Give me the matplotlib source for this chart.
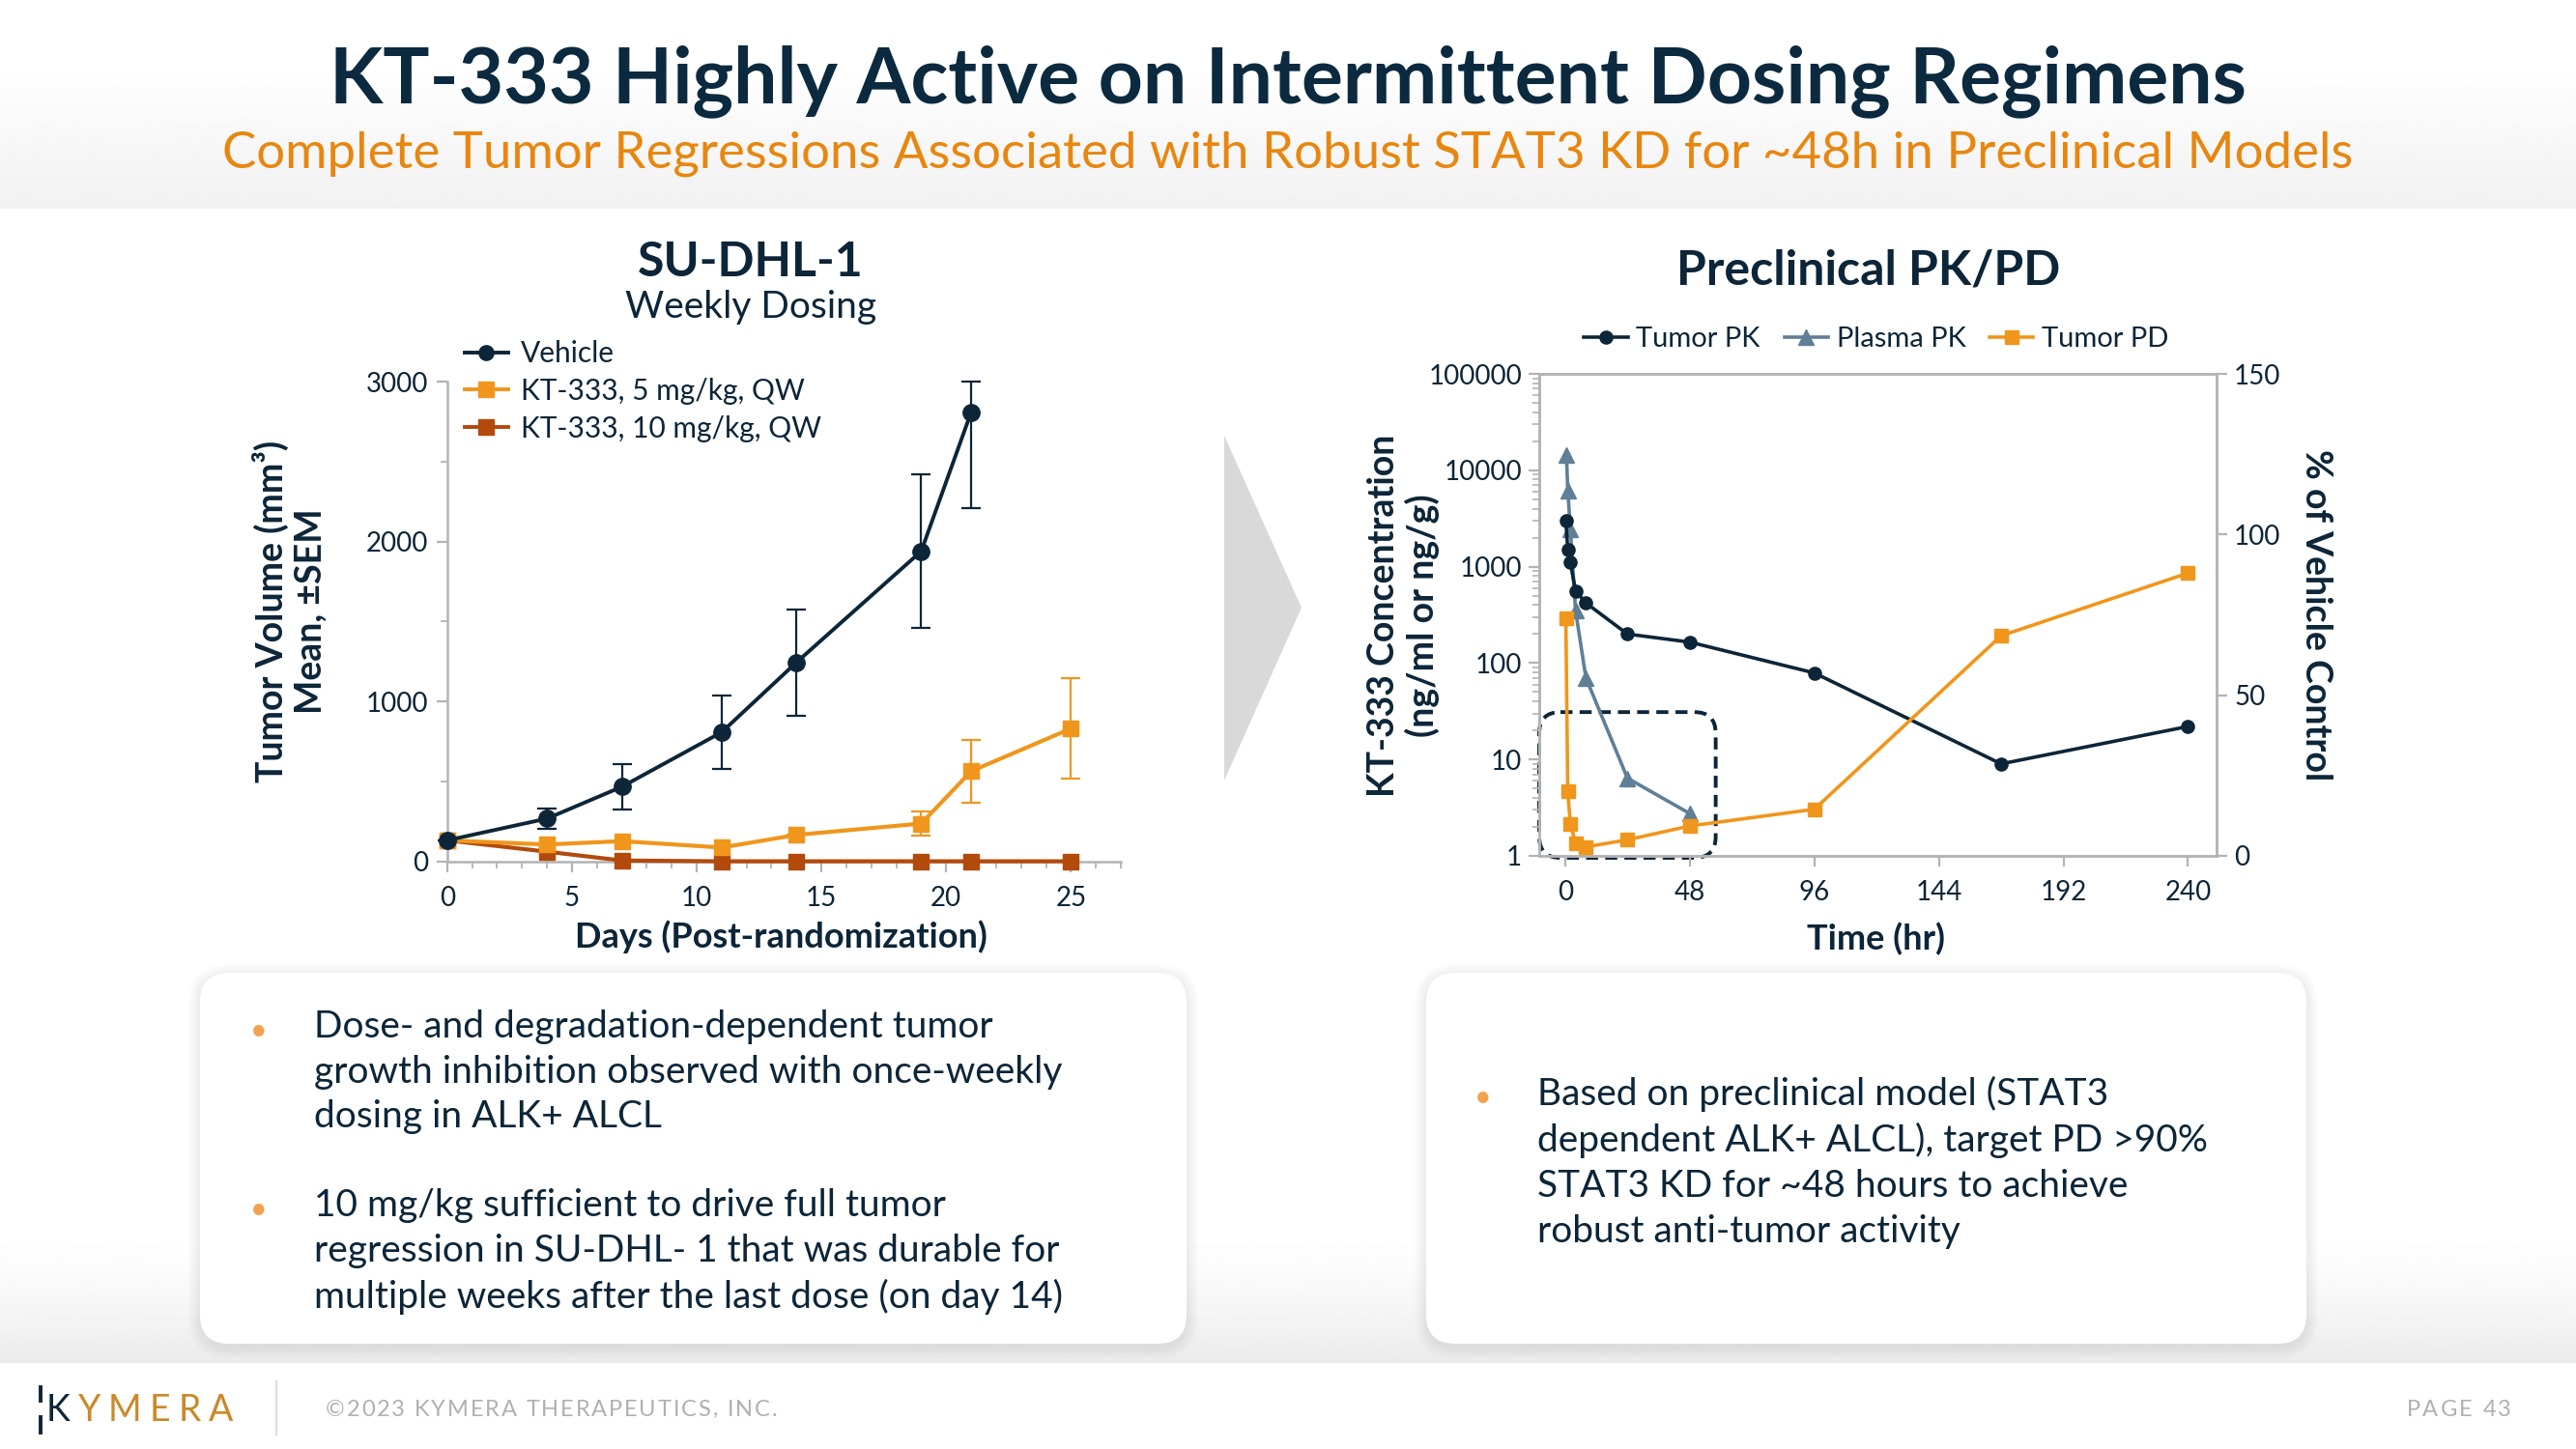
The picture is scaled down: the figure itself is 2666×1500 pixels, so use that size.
import numpy as np
import matplotlib
matplotlib.use("Agg")
import matplotlib.pyplot as plt
from matplotlib.patches import FancyBboxPatch, Polygon
from matplotlib.lines import Line2D

plt.rcParams['font.family'] = ['Lato', 'DejaVu Sans']

W, H = 2666, 1500
NAVY = '#0c2538'
ORANGE = '#f0961c'
RUST = '#b24a0c'
SLATE = '#5f7f97'
GREY = '#b3b3b3'

# SU-DHL-1 tumor volume (mm3), weekly dosing
days_vehicle = [0, 4, 7, 11, 14, 19, 21]
vehicle_mean = [131, 267, 466, 807, 1244, 1939, 2808]
vehicle_err_lo = [0, 63, 144, 232, 333, 480, 600]
vehicle_err_hi = [0, 63, 144, 232, 333, 480, 192]
days_dosed = [0, 4, 7, 11, 14, 19, 21, 25]
mg5_mean = [131, 105, 126, 86, 165, 236, 563, 830]
mg5_err = [0, 0, 0, 0, 0, 77, 197, 315]
mg10_mean = [131, 60, 5, 0, 0, 0, 0, 0]
left_labels = ['Vehicle', 'KT-333, 5 mg/kg, QW', 'KT-333, 10 mg/kg, QW']

# Preclinical PK/PD
pk_hours = [0.25, 1, 2, 4, 8, 24, 48, 96, 168, 240]
tumor_pk = [3000, 1500, 1100, 560, 420, 200, 165, 79, 9, 22]
plasma_hours = [0.5, 1, 2, 4, 8, 24, 48]
plasma_pk = [14500, 6200, 2450, 350, 70, 6.4, 2.75]
pd_hours = [0.25, 1, 2, 4, 8, 24, 48, 96, 168, 240]
tumor_pd = [74, 20, 10, 4, 2.8, 5, 9.3, 14.5, 68.5, 88]
kd_window = (-10, 58, 1, 31)   # hours / conc range highlighted

bullets_left = ["Dose- and degradation-dependent tumor\ngrowth inhibition observed with once-weekly\ndosing in ALK+ ALCL",
                "10 mg/kg sufficient to drive full tumor\nregression in SU-DHL- 1 that was durable for\nmultiple weeks after the last dose (on day 14)"]
bullets_right = ["Based on preclinical model (STAT3\ndependent ALK+ ALCL), target PD >90%\nSTAT3 KD for ~48 hours to achieve\nrobust anti-tumor activity"]

fig = plt.figure(figsize=(W / 100, H / 100), dpi=100)
renderer = fig.canvas.get_renderer()

# background layer in pixel coordinates
bg = fig.add_axes([0, 0, 1, 1], zorder=-5)
bg.set_xlim(0, W)
bg.set_ylim(H, 0)
bg.axis('off')
g = np.linspace(0, 1, 200)[:, None]
head = 1 - 0.055 * np.clip((g - 0.3) / 0.7, 0, 1)
bg.imshow(head, cmap='gray', vmin=0, vmax=1, extent=[0, W, 216, 0], aspect='auto')
foot = 1 - 0.08 * g ** 1.5
bg.imshow(foot, cmap='gray', vmin=0, vmax=1, extent=[0, W, 1411, 1270], aspect='auto')

# text boxes with soft shadow
for (x0, y0, w, h) in [(207, 1007, 1021, 384), (1476, 1007, 911, 384)]:
    for k in range(6, 0, -1):
        bg.add_patch(FancyBboxPatch((x0 - k * 2, y0 - k * 2 + 3), w + k * 4, h + k * 4,
                                    boxstyle='round,pad=0,rounding_size=%d' % (30 + k * 2),
                                    fc='#000000', ec='none', alpha=0.012))
    bg.add_patch(FancyBboxPatch((x0, y0), w, h, boxstyle='round,pad=0,rounding_size=30',
                                fc='white', ec='none'))

# chevron between the charts
bg.add_patch(Polygon([(1267, 451), (1347, 629), (1267, 808)], closed=True, fc='#d9d9d9', ec='none'))

# titles
bg.text(W / 2, 84, 'KT-333 Highly Active on Intermittent Dosing Regimens', ha='center', va='center',
        fontsize=58, fontweight='bold', color='#0b2a40')
bg.text(W / 2, 159, 'Complete Tumor Regressions Associated with Robust STAT3 KD for ~48h in Preclinical Models',
        ha='center', va='center', fontsize=38, color='#e8860f')


def text_width(s, **kw):
    t = bg.text(0, 0, s, **kw)
    w = t.get_window_extent(renderer).width
    t.remove()
    return w


def tracked(x0, x1, y, s, colors, **kw):
    # letter-spaced text spread from x0 to x1
    bar = text_width('|', **kw)
    adv = [text_width(s[:i] + '|', **kw) - bar if i else 0 for i in range(len(s))]
    natural = text_width(s, **kw)
    track = (x1 - x0 - natural) / (len(s) - 1)
    for i, ch in enumerate(s):
        bg.text(x0 + adv[i] + i * track, y, ch, ha='left', va='center', color=colors[i], **kw)


# bullets
def bullet_block(x_dot, x_txt, y_top, items, gap):
    y = y_top
    for item in items:
        n = item.count('\n') + 1
        bg.text(x_dot, y, '\u2022', ha='center', va='center', fontsize=22, color='#f2a24e')
        bg.text(x_txt, y - 22, item, ha='left', va='top', fontsize=28, color=NAVY, linespacing=1.37)
        y += n * 47 + gap

bullet_block(268, 325, 1067, bullets_left, 44)
bullet_block(1535, 1591, 1136, bullets_right, 44)

# footer
bg.plot([286, 286], [1430, 1485], color='#dddddd', lw=1.5)
bg.plot([42, 42], [1436, 1450], color=NAVY, lw=2.8)
bg.plot([42, 42], [1467, 1483], color=NAVY, lw=2.8)
tracked(48, 241, 1460, 'KYMERA', [NAVY] + ['#c98a2a'] * 5, fontsize=27)
copy_txt = '\u00a92023 KYMERA THERAPEUTICS, INC.'
tracked(337, 804, 1459, copy_txt, ['#b0b0b0'] * len(copy_txt), fontsize=17)
tracked(2491, 2599, 1459, 'PAGE 43', ['#b0b0b0'] * 7, fontsize=17)

# ---------------- left chart ----------------
ax = fig.add_axes([462.8 / W, 1 - 891.6 / H, (1160 - 462.8) / W, (891.6 - 395) / H])
ax.set_facecolor('none')
ax.errorbar(days_vehicle, vehicle_mean, yerr=[vehicle_err_lo, vehicle_err_hi], color=NAVY, lw=2.8,
            marker='o', ms=12.5, elinewidth=1.6, capsize=7.5, capthick=1.6, label=left_labels[0], zorder=5,
            clip_on=False)
ax.errorbar(days_dosed, mg5_mean, yerr=mg5_err, color=ORANGE, lw=3, marker='s', ms=11.5,
            elinewidth=1.6, capsize=7.5, capthick=1.6, label=left_labels[1], zorder=4, clip_on=False)
ax.plot(days_dosed, mg10_mean, color=RUST, lw=3, marker='s', ms=11.5, label=left_labels[2], zorder=3,
        clip_on=False)
ax.set_xlim(0, 27)
ax.set_ylim(0, 3000)
ax.set_xticks([0, 5, 10, 15, 20, 25])
ax.set_xticks(np.arange(0, 28, 1), minor=True)
ax.set_yticks([0, 1000, 2000, 3000])
ax.set_yticks([500, 1500, 2500], minor=True)
for s in ['top', 'right']:
    ax.spines[s].set_visible(False)
for s in ['left', 'bottom']:
    ax.spines[s].set_color(GREY)
    ax.spines[s].set_linewidth(1.8)
ax.tick_params(which='major', length=8, width=1.6, color=GREY, labelsize=20, labelcolor=NAVY, pad=6)
ax.tick_params(axis='x', which='major', pad=10)
ax.tick_params(which='minor', length=5, width=1.3, color=GREY)
hs = [Line2D([], [], color=c, lw=2.8, marker=m, ms=11) for c, m in [(NAVY, 'o'), (ORANGE, 's'), (RUST, 's')]]
fig.legend(hs, left_labels, loc='upper left', bbox_to_anchor=(481 / W, 1 - 352 / H), frameon=False,
           fontsize=21.5, handlelength=1.5, handletextpad=0.45, labelspacing=0.36, borderpad=0, borderaxespad=0,
           labelcolor=NAVY)

bg.text(777, 272, 'SU-DHL-1', ha='center', va='center', fontsize=36, fontweight='bold', color=NAVY)
bg.text(777, 318, 'Weekly Dosing', ha='center', va='center', fontsize=28, color=NAVY)
bg.text(808, 970, 'Days (Post-randomization)', ha='center', va='center', fontsize=26, fontweight='bold', color=NAVY)
bg.text(280, 633, 'Tumor Volume (mm\u00b3)', ha='center', va='center', rotation=90, fontsize=27,
        fontweight='bold', color=NAVY)
bg.text(321, 633, 'Mean, \u00b1SEM', ha='center', va='center', rotation=90, fontsize=27,
        fontweight='bold', color=NAVY)

# ---------------- right chart ----------------
ax2 = fig.add_axes([1593 / W, 1 - 886 / H, (2294 - 1593) / W, (886 - 387) / H])
ax2.set_facecolor('none')
ax2.set_yscale('log')
ax2.plot(pk_hours, tumor_pk, color=NAVY, lw=2.6, marker='o', ms=9.5, label='Tumor PK', zorder=4)
ax2.plot(plasma_hours, plasma_pk, color=SLATE, lw=2.6, marker='^', ms=11, label='Plasma PK', zorder=3)
ax2.set_xlim(-10, 251)
ax2.set_ylim(1, 100000)
ax2.set_xticks(np.arange(0, 241, 48))
ax2.set_yticks([1, 10, 100, 1000, 10000, 100000])
ax2.set_yticklabels(['1', '10', '100', '1000', '10000', '100000'])
for s in ax2.spines.values():
    s.set_color(GREY)
    s.set_linewidth(1.8)
ax2.tick_params(which='major', length=8, width=1.6, color=GREY, labelsize=20, labelcolor=NAVY, pad=5)
ax2.tick_params(axis='x', which='major', pad=10)
ax2.tick_params(which='minor', length=5, width=1.2, color=GREY)

axr = ax2.twinx()
axr.set_facecolor('none')
axr.plot(pd_hours, tumor_pd, color=ORANGE, lw=2.6, marker='s', ms=9.5, label='Tumor PD', zorder=4)
axr.set_ylim(0, 150)
axr.set_yticks([0, 50, 100, 150])
for s in axr.spines.values():
    s.set_color(GREY)
    s.set_linewidth(1.8)
axr.tick_params(length=8, width=1.6, color=GREY, labelsize=20, labelcolor=NAVY, pad=5)

h1, l1 = ax2.get_legend_handles_labels()
h2, l2 = axr.get_legend_handles_labels()
fig.legend(h1 + h2, l1 + l2, loc='center', bbox_to_anchor=(1942 / W, 1 - 351 / H), ncol=3, frameon=False,
           fontsize=21, handlelength=1.55, handletextpad=0.3, columnspacing=0.85, labelcolor=NAVY)

# dashed rounded box marking the >90% KD window
fig.canvas.draw()
p0 = ax2.transData.transform((kd_window[0], kd_window[2]))
p1 = ax2.transData.transform((kd_window[1], kd_window[3]))
bx0, by0 = p0[0], H - p1[1]
bg.add_patch(FancyBboxPatch((bx0, by0), p1[0] - p0[0], p1[1] - p0[1] + 2,
                            boxstyle='round,pad=0,rounding_size=22', fc='none', ec=NAVY, lw=2.8,
                            ls=(0, (3.2, 1.9)), zorder=10))

bg.text(1934, 280, 'Preclinical PK/PD', ha='center', va='center', fontsize=36, fontweight='bold', color=NAVY)
bg.text(1942, 972, 'Time (hr)', ha='center', va='center', fontsize=26, fontweight='bold', color=NAVY)
bg.text(1432, 637, 'KT-333 Concentration', ha='center', va='center', rotation=90, fontsize=27,
        fontweight='bold', color=NAVY)
bg.text(1472, 637, '(ng/ml or ng/g)', ha='center', va='center', rotation=90, fontsize=27,
        fontweight='bold', color=NAVY)
bg.text(2397, 637, '% of Vehicle Control', ha='center', va='center', rotation=270, fontsize=27,
        fontweight='bold', color=NAVY)

fig.savefig('out.png', dpi=100)
